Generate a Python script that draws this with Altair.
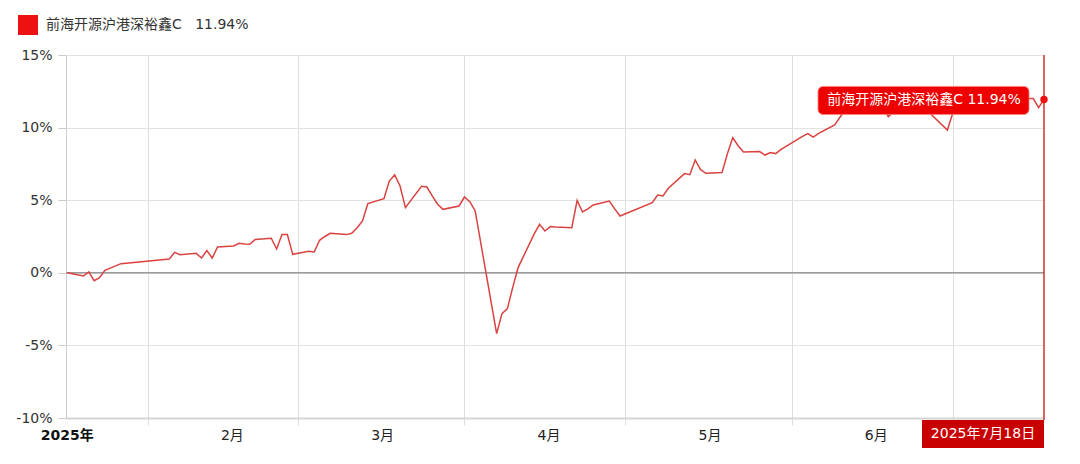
import altair as alt
import pandas as pd

# ---- data ----
series_name = "前海开源沪港深裕鑫C"
last_text = "11.94%"
last_date_text = "2025年7月18日"

dates = [
    "2025-01-17", "2025-01-20", "2025-01-21", "2025-01-22", "2025-01-23", "2025-01-24", "2025-01-27",
    "2025-02-05", "2025-02-06", "2025-02-07", "2025-02-10", "2025-02-11", "2025-02-12", "2025-02-13",
    "2025-02-14", "2025-02-17", "2025-02-18", "2025-02-19", "2025-02-20", "2025-02-21", "2025-02-24",
    "2025-02-25", "2025-02-26", "2025-02-27", "2025-02-28",
    "2025-03-03", "2025-03-04", "2025-03-05", "2025-03-06", "2025-03-07", "2025-03-10", "2025-03-11",
    "2025-03-12", "2025-03-13", "2025-03-14", "2025-03-17", "2025-03-18", "2025-03-19", "2025-03-20",
    "2025-03-21", "2025-03-24", "2025-03-25", "2025-03-26", "2025-03-27", "2025-03-28", "2025-03-31",
    "2025-04-01", "2025-04-02", "2025-04-03", "2025-04-07", "2025-04-08", "2025-04-09", "2025-04-10",
    "2025-04-11", "2025-04-14", "2025-04-15", "2025-04-16", "2025-04-17", "2025-04-18", "2025-04-21",
    "2025-04-22", "2025-04-23", "2025-04-24", "2025-04-25", "2025-04-28", "2025-04-29", "2025-04-30",
    "2025-05-06", "2025-05-07", "2025-05-08", "2025-05-09", "2025-05-12", "2025-05-13", "2025-05-14",
    "2025-05-15", "2025-05-16", "2025-05-19", "2025-05-20", "2025-05-21", "2025-05-22", "2025-05-23",
    "2025-05-26", "2025-05-27", "2025-05-28", "2025-05-29", "2025-05-30",
    "2025-06-03", "2025-06-04", "2025-06-05", "2025-06-06", "2025-06-09", "2025-06-10", "2025-06-11",
    "2025-06-12", "2025-06-13", "2025-06-16", "2025-06-17", "2025-06-18", "2025-06-19", "2025-06-20",
    "2025-06-23", "2025-06-24", "2025-06-25", "2025-06-26", "2025-06-27", "2025-06-30",
    "2025-07-01", "2025-07-02", "2025-07-03", "2025-07-04", "2025-07-07", "2025-07-08", "2025-07-09",
    "2025-07-10", "2025-07-11", "2025-07-14", "2025-07-15", "2025-07-16", "2025-07-17", "2025-07-18",
]
values = [
    0.00, -0.22, 0.06, -0.54, -0.33, 0.17, 0.63,
    0.95, 1.41, 1.25, 1.34, 1.02, 1.53, 1.02,
    1.78, 1.85, 2.03, 1.98, 1.96, 2.29, 2.38,
    1.64, 2.63, 2.63, 1.27,
    1.48, 1.43, 2.24, 2.50, 2.72, 2.63, 2.72,
    3.10, 3.57, 4.77, 5.11, 6.32, 6.74, 5.98,
    4.49, 5.96, 5.91, 5.30, 4.72, 4.37, 4.60,
    5.22, 4.90, 4.26, -4.19, -2.81, -2.47, -1.00,
    0.36, 2.68, 3.34, 2.88, 3.18, 3.15, 3.11,
    4.99, 4.19, 4.40, 4.67, 4.94, 4.40, 3.91,
    4.83, 5.36, 5.29, 5.82, 6.83, 6.76, 7.77,
    7.10, 6.85, 6.90, 8.20, 9.31, 8.75, 8.32,
    8.35, 8.11, 8.28, 8.21, 8.50,
    9.40, 9.59, 9.35, 9.60, 10.18, 10.73, 11.20,
    11.00, 11.30, 11.60, 11.40, 11.30, 10.76, 11.10,
    11.50, 11.90, 12.20, 11.80, 10.90, 9.83,
    11.00, 11.30, 11.60, 11.90, 11.70, 12.10, 12.00,
    12.30, 12.20, 12.10, 12.00, 12.00, 11.38, 11.94,
]

year_label_date = "2025-01-17"
year_label = "2025年"
month_label_dates = ["2025-02-16T18:00:00", "2025-03-16T18:00:00",
                     "2025-04-16T18:00:00", "2025-05-16T18:00:00", "2025-06-16T18:00:00"]
month_labels = ["2月", "3月", "4月", "5月", "6月"]

grid_months = [2, 3, 4, 5, 6, 7]
y_ticks = [-10, -5, 0, 5, 10, 15]

# ---- tables ----
def local(d):
    return d if "T" in d else d + "T00:00:00"

df = pd.DataFrame({"date": [local(d) for d in dates], "value": values, "name": series_name})
last = df.tail(1).copy()
labels_df = pd.DataFrame({"date": [local(d) for d in month_label_dates], "label": month_labels})
year_df = pd.DataFrame({"date": [local(year_label_date)], "label": [year_label]})
zero_df = pd.DataFrame({"value": [0]})

W, H = 978, 363
FONT = "DejaVu Sans, Noto Sans CJK SC"
NB = "\u00a0"

xdom = alt.Scale(domain=[alt.DateTime(year=2025, month=1, date=16, hours=18),
                         alt.DateTime(year=2025, month=7, date=18)])
ydom = alt.Scale(domain=[-10, 15], nice=False)

xaxis = alt.Axis(values=[alt.DateTime(year=2025, month=m, date=1) for m in grid_months],
                 labels=False, grid=True, gridColor="#dddddd", gridWidth=1,
                 ticks=True, tickColor="#dddddd", tickSize=7,
                 domainColor="#d6d6d6", domainWidth=2, title=None)
yaxis = alt.Axis(values=y_ticks, labelExpr="datum.value + '%'", grid=True,
                 gridColor="#e2e2e2", gridWidth=1, tickColor="#cccccc", tickSize=8,
                 domainColor="#cccccc", labelFontSize=14, labelColor="#333333",
                 labelPadding=6, labelFont=FONT, title=None)

X = alt.X("date:T", scale=xdom, axis=xaxis)
Y = alt.Y("value:Q", scale=ydom, axis=yaxis)

line = alt.Chart(df).mark_line(color="#d9423f", strokeWidth=1.5).encode(x=X, y=Y)

zero = alt.Chart(zero_df).mark_rule(color="#9a9a9a", strokeWidth=1.5).encode(y=Y)

vrule = alt.Chart(last).mark_rule(color="#cc3333", strokeWidth=1.5).encode(
    x=X, y=alt.value(0), y2=alt.value(H + 2),
)

dot = alt.Chart(last).mark_point(filled=True, size=55, opacity=1).encode(
    x=X, y=Y,
    color=alt.Color("name:N", scale=alt.Scale(range=["#ee1111"]),
                    legend=alt.Legend(title=None, orient="none", legendX=-48, legendY=-40,
                                      symbolType="square", symbolSize=400, symbolStrokeWidth=0,
                                      labelFontSize=14, labelColor="#333333", labelFont=FONT,
                                      labelOffset=8, padding=0, labelLimit=0,
                                      labelExpr="datum.label + '" + NB * 3 + last_text + "'")),
)

tip_box = alt.Chart(last).mark_rect(color="#ee0000", cornerRadius=5,
                                    stroke="#ff8080", strokeWidth=0.8,
                                    xOffset=-226, x2Offset=-15, yOffset=-13, y2Offset=15).encode(
    x=X, x2="date:T", y=Y, y2="value:Q",
)
tip_text = alt.Chart(last).mark_text(color="white", fontSize=14, font=FONT, dx=-120, dy=1,
                                     baseline="middle", align="center").encode(
    x=X, y=Y, text=alt.value(series_name + " " + last_text),
)

date_box = alt.Chart(last).mark_rect(color="#c80000", xOffset=-122, x2Offset=0).encode(
    x=X, x2="date:T", y=alt.value(H + 2), y2=alt.value(H + 30),
)
date_text = alt.Chart(last).mark_text(color="white", fontSize=14, font=FONT, dx=-61,
                                      baseline="middle", align="center").encode(
    x=X, y=alt.value(H + 16), text=alt.value(last_date_text),
)

month_text = alt.Chart(labels_df).mark_text(fontSize=14, font=FONT, color="#222222",
                                            baseline="middle", align="center").encode(
    x=X, y=alt.value(H + 18), text="label:N",
)
year_text = alt.Chart(year_df).mark_text(fontSize=14, font=FONT, color="#111111", fontWeight="bold",
                                         baseline="middle", align="center").encode(
    x=X, y=alt.value(H + 18), text="label:N",
)

chart = alt.layer(zero, line, vrule, dot, tip_box, tip_text, month_text, year_text,
                  date_box, date_text).properties(
    width=W, height=H,
    autosize=alt.AutoSizeParams(type="none"),
    padding={"left": 58, "top": 47, "right": 28, "bottom": 38},
    background="white",
).configure(font=FONT, view=alt.ViewConfig(stroke=None))

chart.save("out.html", embed_options={"renderer": "svg", "actions": False})
